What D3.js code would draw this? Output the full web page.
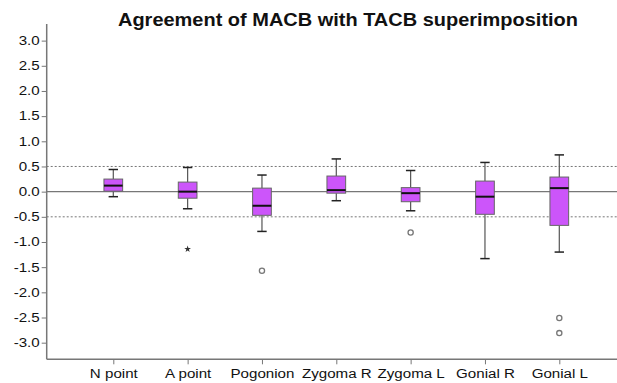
<!DOCTYPE html>
<html>
<head>
<meta charset="utf-8">
<script src="https://cdn.jsdelivr.net/npm/d3@7/dist/d3.min.js"></script>
<style>
  html, body { margin: 0; padding: 0; background: #fff; }
  svg { display: block; }
  text { font-family: Arial, "Liberation Sans", sans-serif; fill: #111; }
</style>
</head>
<body>
<svg id="chart" width="617" height="383"></svg>
<script>
// Landmarks and their box-plot summaries (deviation, mm)
const categories  = ["N point", "A point", "Pogonion", "Zygoma R", "Zygoma L", "Gonial R", "Gonial L"];
const whiskerLow  = [-0.10, -0.34, -0.79, -0.18, -0.38, -1.33, -1.20];
const q1          = [ 0.01, -0.13, -0.47, -0.03, -0.20, -0.45, -0.67];
const medians     = [ 0.12,  0.00, -0.28,  0.03, -0.03, -0.10,  0.07];
const q3          = [ 0.25,  0.19,  0.07,  0.31,  0.08,  0.21,  0.29];
const whiskerHigh = [ 0.44,  0.48,  0.33,  0.65,  0.42,  0.58,  0.73];
// Outliers (circles) and extreme values (stars)
const outliers = [
  { cat: "Pogonion", value: -1.57 },
  { cat: "Zygoma L", value: -0.81 },
  { cat: "Gonial L", value: -2.51 },
  { cat: "Gonial L", value: -2.81 }
];
const extremes = [
  { cat: "A point", value: -1.14 }
];
const yTicks = [3.0, 2.5, 2.0, 1.5, 1.0, 0.5, 0.0, -0.5, -1.0, -1.5, -2.0, -2.5, -3.0];
const limits = [0.5, -0.5];
const title = "Agreement of MACB with TACB superimposition";

const svg = d3.select("#chart");
const plotLeft = 46.7, plotRight = 617, plotTop = 24, plotBottom = 359.3;
const stretch = 1.26;   // horizontally widened lettering

const y = d3.scaleLinear().domain([-3.33, 3.33]).range([plotBottom, plotTop]);
const x = d3.scalePoint().domain(categories).range([113.3, 559.3]);

const boxW = 18.7, capW = 9.4;

// widen text horizontally around its anchor
function widen(sel) {
  sel.each(function () {
    const w = this.getComputedTextLength();
    d3.select(this).attr("textLength", w * stretch).attr("lengthAdjust", "spacingAndGlyphs");
  });
}

// reference lines
svg.append("g").selectAll("line").data(limits).join("line")
  .attr("x1", plotLeft).attr("x2", plotRight)
  .attr("y1", d => y(d)).attr("y2", d => y(d))
  .attr("stroke", "#777").attr("stroke-width", 1).attr("stroke-dasharray", "2,2");
svg.append("line")
  .attr("x1", plotLeft).attr("x2", plotRight).attr("y1", y(0)).attr("y2", y(0))
  .attr("stroke", "#777").attr("stroke-width", 1.2);

// y axis
const yAxis = svg.append("g").attr("transform", `translate(${plotLeft},0)`)
  .call(d3.axisLeft(y).tickValues(yTicks).tickSize(5).tickPadding(2).tickFormat(d => d.toFixed(1)));
yAxis.select(".domain").remove();
yAxis.selectAll(".tick line").attr("stroke", "#777");
yAxis.selectAll(".tick text").attr("font-size", 12).attr("fill", "#111").attr("font-family", "Arial, 'Liberation Sans', sans-serif").call(widen);
svg.append("line").attr("x1", plotLeft).attr("x2", plotLeft).attr("y1", plotTop).attr("y2", plotBottom)
  .attr("stroke", "#777").attr("stroke-width", 1.5);

// x axis
const xAxis = svg.append("g").attr("transform", `translate(0,${plotBottom})`)
  .call(d3.axisBottom(x).tickSize(5).tickPadding(5));
xAxis.select(".domain").remove();
xAxis.selectAll(".tick line").attr("stroke", "#777");
xAxis.selectAll(".tick text").attr("font-size", 12).attr("fill", "#111").attr("font-family", "Arial, 'Liberation Sans', sans-serif").call(widen);
svg.append("line").attr("x1", plotLeft).attr("x2", plotRight).attr("y1", plotBottom).attr("y2", plotBottom)
  .attr("stroke", "#777").attr("stroke-width", 1.5);

// boxes
const rows = categories.map((c, i) => ({
  cat: c, lo: whiskerLow[i], q1: q1[i], med: medians[i], q3: q3[i], hi: whiskerHigh[i]
}));
const g = svg.append("g").selectAll("g").data(rows).join("g");

g.append("line").attr("x1", d => x(d.cat)).attr("x2", d => x(d.cat))
  .attr("y1", d => y(d.hi)).attr("y2", d => y(d.q3)).attr("stroke", "#555").attr("stroke-width", 1.2);
g.append("line").attr("x1", d => x(d.cat)).attr("x2", d => x(d.cat))
  .attr("y1", d => y(d.q1)).attr("y2", d => y(d.lo)).attr("stroke", "#555").attr("stroke-width", 1.2);
g.append("line").attr("x1", d => x(d.cat) - capW / 2).attr("x2", d => x(d.cat) + capW / 2)
  .attr("y1", d => y(d.hi)).attr("y2", d => y(d.hi)).attr("stroke", "#222").attr("stroke-width", 1.5);
g.append("line").attr("x1", d => x(d.cat) - capW / 2).attr("x2", d => x(d.cat) + capW / 2)
  .attr("y1", d => y(d.lo)).attr("y2", d => y(d.lo)).attr("stroke", "#222").attr("stroke-width", 1.5);
g.append("rect")
  .attr("x", d => x(d.cat) - boxW / 2).attr("width", boxW)
  .attr("y", d => y(d.q3)).attr("height", d => y(d.q1) - y(d.q3))
  .attr("fill", "#cc55fa").attr("stroke", "#666").attr("stroke-width", 1);
g.append("line").attr("x1", d => x(d.cat) - boxW / 2).attr("x2", d => x(d.cat) + boxW / 2)
  .attr("y1", d => y(d.med)).attr("y2", d => y(d.med)).attr("stroke", "#111").attr("stroke-width", 2);

// outliers
svg.append("g").selectAll("circle").data(outliers).join("circle")
  .attr("cx", d => x(d.cat)).attr("cy", d => y(d.value)).attr("r", 2.6)
  .attr("fill", "#fff").attr("stroke", "#777").attr("stroke-width", 1.3);
svg.append("g").selectAll("path").data(extremes).join("path")
  .attr("transform", d => `translate(${x(d.cat)},${y(d.value)})`)
  .attr("d", d3.symbol(d3.symbolStar, 14))
  .attr("fill", "#333");

// title
svg.append("text").attr("x", 348).attr("y", 26).attr("text-anchor", "middle")
  .attr("font-size", 18).attr("font-weight", "bold").text(title)
  .attr("textLength", 460).attr("lengthAdjust", "spacingAndGlyphs");
</script>
</body>
</html>
